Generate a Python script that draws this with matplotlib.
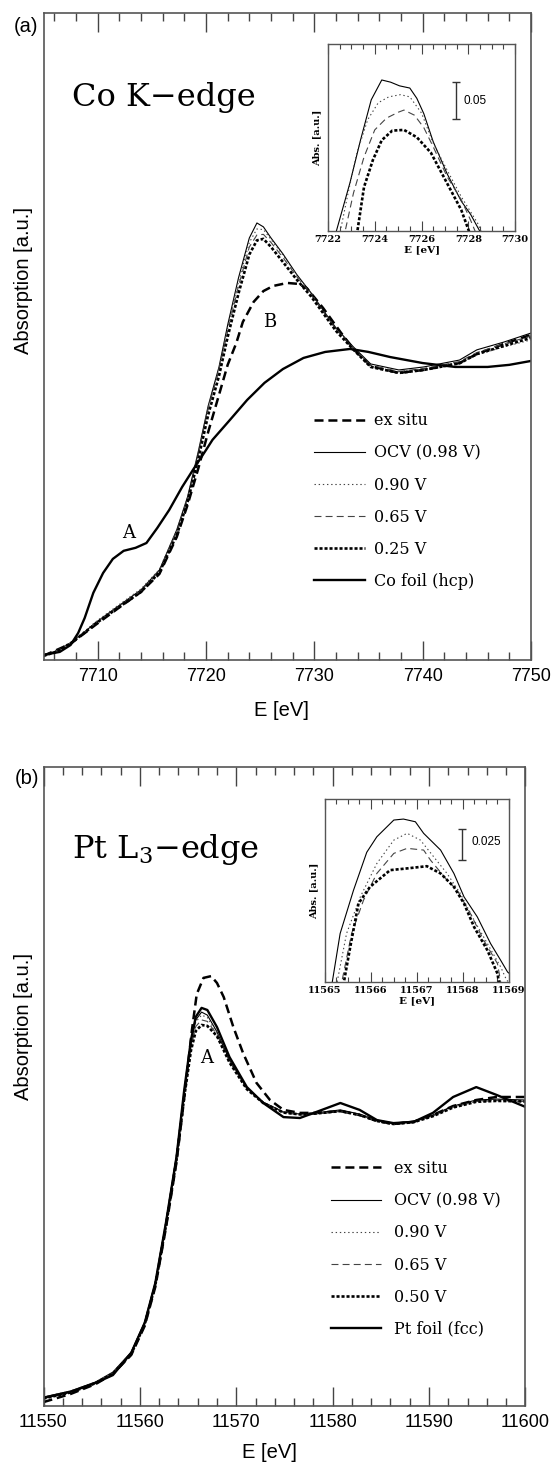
import matplotlib
matplotlib.use('Agg')
import matplotlib.pyplot as plt
from matplotlib.ticker import MultipleLocator

plt.rcParams['lines.scale_dashes'] = False
plt.rcParams['mathtext.fontset'] = 'dejavuserif'
plt.rcParams['font.family'] = ['Liberation Sans', 'DejaVu Sans']

# ---------------- panel (a): Co K-edge ----------------
co_foil_e = [7705.0, 7706.5, 7707.5, 7708.2, 7708.8, 7709.6, 7710.5, 7711.4, 7712.4, 7713.5,
             7714.5, 7715.5, 7716.6, 7717.8, 7718.8, 7720.0, 7720.6, 7722.2, 7723.8, 7725.4,
             7727.1, 7729.0, 7731.0, 7733.3, 7735.0, 7737.0, 7740.0, 7743.0, 7746.0, 7748.0, 7750.0]
co_foil_y = [0.0, 0.01, 0.033, 0.073, 0.123, 0.207, 0.273, 0.32, 0.347, 0.357,
             0.373, 0.423, 0.483, 0.56, 0.617, 0.683, 0.717, 0.783, 0.85, 0.907,
             0.953, 0.99, 1.01, 1.02, 1.01, 0.993, 0.973, 0.96, 0.96, 0.967, 0.98]

co_e = [7705.0, 7706.0, 7707.5, 7709.0, 7709.8, 7711.8, 7714.0, 7715.7, 7717.3, 7718.3,
        7719.3, 7720.2, 7721.2, 7722.0, 7723.0, 7724.0, 7724.7, 7725.3, 7726.0, 7727.1,
        7728.4, 7729.7, 7731.0, 7732.0, 7733.6, 7735.2, 7737.8, 7740.1, 7743.4, 7745.0,
        7747.5, 7750.0]
co_ocv = [0.0, 0.01, 0.04, 0.083, 0.107, 0.16, 0.217, 0.283, 0.417, 0.527,
          0.68, 0.83, 0.96, 1.10, 1.257, 1.39, 1.44, 1.427, 1.39, 1.337,
          1.267, 1.207, 1.14, 1.09, 1.027, 0.97, 0.95, 0.96, 0.983, 1.017,
          1.043, 1.073]
co_090 = [0.0, 0.012, 0.042, 0.085, 0.11, 0.163, 0.22, 0.285, 0.415, 0.525,
          0.675, 0.825, 0.955, 1.09, 1.245, 1.375, 1.42, 1.418, 1.385, 1.333,
          1.265, 1.205, 1.138, 1.087, 1.022, 0.962, 0.943, 0.952, 0.975, 1.0,
          1.027, 1.05]
co_065 = [0.0, 0.01, 0.04, 0.082, 0.106, 0.158, 0.214, 0.28, 0.41, 0.52,
          0.67, 0.82, 0.95, 1.08, 1.23, 1.36, 1.40, 1.402, 1.375, 1.325,
          1.26, 1.2, 1.135, 1.085, 1.022, 0.965, 0.945, 0.955, 0.978, 1.008,
          1.037, 1.063]
co_025 = [-0.003, 0.008, 0.038, 0.08, 0.104, 0.155, 0.21, 0.275, 0.4, 0.51,
          0.655, 0.8, 0.93, 1.06, 1.205, 1.335, 1.382, 1.387, 1.36, 1.31,
          1.25, 1.195, 1.13, 1.08, 1.018, 0.96, 0.94, 0.95, 0.972, 1.003,
          1.03, 1.057]

co_ex_e = [7705.0, 7707.5, 7709.8, 7711.8, 7714.0, 7715.7, 7717.3, 7718.3, 7719.3, 7720.2,
           7721.2, 7722.0, 7722.8, 7723.4, 7724.4, 7725.3, 7726.2, 7727.5, 7728.5, 7729.3,
           7730.8, 7732.4, 7733.6, 7735.2, 7737.8, 7740.1, 7743.4, 7745.0, 7747.5, 7750.0]
co_ex_y = [-0.003, 0.037, 0.1, 0.153, 0.21, 0.27, 0.393, 0.5, 0.623, 0.743,
           0.867, 0.967, 1.04, 1.11, 1.177, 1.213, 1.23, 1.24, 1.237, 1.223,
           1.157, 1.077, 1.02, 0.963, 0.94, 0.95, 0.973, 1.003, 1.037, 1.067]

# inset (a)
ins_a_ocv_e = [7722.25, 7722.94, 7723.39, 7723.85, 7724.30, 7724.68, 7725.06, 7725.5, 7725.8,
               7726.1, 7726.5, 7727.1, 7727.7, 7728.1, 7728.7]
ins_a_ocv_y = [1.222, 1.300, 1.358, 1.413, 1.440, 1.437, 1.432, 1.429, 1.415,
               1.394, 1.356, 1.312, 1.275, 1.257, 1.222]
ins_a_090_e = [7722.45, 7722.86, 7723.24, 7723.7, 7724.15, 7724.6, 7725.1, 7725.5, 7726.0,
               7726.5, 7727.1, 7727.7, 7728.4, 7728.7]
ins_a_090_y = [1.222, 1.286, 1.341, 1.386, 1.409, 1.417, 1.420, 1.417, 1.395,
               1.354, 1.317, 1.281, 1.245, 1.222]
ins_a_065_e = [7722.65, 7723.09, 7723.54, 7724.0, 7724.5, 7725.0, 7725.25, 7725.7, 7726.1,
               7726.5, 7727.1, 7727.7, 7728.1, 7728.45]
ins_a_065_y = [1.222, 1.286, 1.335, 1.372, 1.388, 1.396, 1.399, 1.392, 1.375,
               1.349, 1.308, 1.277, 1.249, 1.222]
ins_a_025_e = [7723.2, 7723.54, 7723.92, 7724.3, 7724.75, 7725.25, 7725.8, 7726.4, 7726.8,
               7727.25, 7727.7, 7728.1]
ins_a_025_y = [1.222, 1.294, 1.331, 1.358, 1.371, 1.372, 1.362, 1.341, 1.317,
               1.290, 1.263, 1.228]

# ---------------- panel (b): Pt L3-edge ----------------
pt_e = [11550.0, 11552.8, 11555.4, 11557.2, 11559.1, 11560.5, 11561.6, 11562.7, 11563.8,
        11564.6, 11565.3, 11565.8, 11566.4, 11567.0, 11568.0, 11569.3, 11571.1, 11572.8,
        11574.9, 11576.6, 11578.3, 11580.8, 11582.8, 11584.6, 11586.3, 11588.4, 11590.4,
        11592.5, 11594.9, 11597.0, 11600.0]
pt_foil = [0.007, 0.027, 0.057, 0.083, 0.157, 0.257, 0.39, 0.59, 0.81,
           1.033, 1.2, 1.277, 1.307, 1.3, 1.243, 1.143, 1.043, 0.99,
           0.943, 0.94, 0.96, 0.99, 0.967, 0.933, 0.923, 0.927, 0.957,
           1.01, 1.043, 1.017, 0.977]
pt_ocv = [0.01, 0.03, 0.06, 0.093, 0.16, 0.26, 0.393, 0.593, 0.817,
          1.033, 1.193, 1.267, 1.293, 1.283, 1.227, 1.133, 1.04, 0.993,
          0.96, 0.953, 0.957, 0.967, 0.953, 0.933, 0.923, 0.93, 0.95,
          0.98, 1.0, 1.003, 1.0]
pt_090 = [0.01, 0.03, 0.06, 0.092, 0.158, 0.258, 0.39, 0.59, 0.812,
          1.025, 1.185, 1.26, 1.283, 1.275, 1.222, 1.13, 1.04, 0.993,
          0.96, 0.953, 0.955, 0.963, 0.952, 0.932, 0.922, 0.928, 0.948,
          0.977, 0.996, 1.0, 0.997]
pt_065 = [0.008, 0.028, 0.058, 0.09, 0.155, 0.255, 0.386, 0.585, 0.805,
          1.018, 1.175, 1.245, 1.267, 1.262, 1.218, 1.128, 1.038, 0.99,
          0.958, 0.95, 0.953, 0.962, 0.95, 0.93, 0.92, 0.927, 0.947,
          0.976, 0.995, 0.998, 0.995]
pt_050 = [0.005, 0.025, 0.056, 0.088, 0.153, 0.252, 0.383, 0.58, 0.8,
          1.01, 1.165, 1.23, 1.25, 1.247, 1.213, 1.125, 1.036, 0.99,
          0.958, 0.952, 0.955, 0.963, 0.95, 0.93, 0.92, 0.926, 0.946,
          0.975, 0.994, 0.997, 0.995]

pt_ex_e = [11550.0, 11552.8, 11555.4, 11557.2, 11559.1, 11560.5, 11561.6, 11562.7, 11563.8,
           11564.6, 11565.4, 11565.9, 11566.6, 11567.4, 11568.0, 11568.7, 11569.7, 11570.7,
           11572.1, 11573.5, 11574.9, 11576.6, 11578.3, 11580.8, 11582.8, 11584.6, 11586.3,
           11588.4, 11590.4, 11592.5, 11594.9, 11597.0, 11600.0]
pt_ex_y = [-0.007, 0.02, 0.053, 0.087, 0.15, 0.247, 0.377, 0.573, 0.793,
           1.007, 1.233, 1.353, 1.407, 1.413, 1.39, 1.343, 1.243, 1.157,
           1.057, 1.0, 0.967, 0.957, 0.957, 0.963, 0.95, 0.93, 0.92,
           0.927, 0.95, 0.98, 1.0, 1.01, 1.01]

# inset (b)
ins_b_ocv_e = [11565.13, 11565.33, 11565.62, 11565.91, 11566.13, 11566.5, 11566.71, 11566.97,
               11567.15, 11567.52, 11567.81, 11568.03, 11568.32, 11568.61, 11568.83, 11568.98,
               11569.1]
ins_b_ocv_y = [1.157, 1.203, 1.238, 1.269, 1.2816, 1.2952, 1.296, 1.2938,
               1.2844, 1.2708, 1.2518, 1.2328, 1.2165, 1.1948, 1.1812, 1.1717,
               1.1682]
ins_b_090_e = [11565.23, 11565.47, 11565.77, 11566.13, 11566.5, 11566.79, 11567.08, 11567.37,
               11567.66, 11567.95, 11568.25, 11568.54, 11568.83, 11568.96, 11569.1]
ins_b_090_y = [1.157, 1.203, 1.2328, 1.2599, 1.2789, 1.2844, 1.2789, 1.2653,
               1.2518, 1.2355, 1.2138, 1.1948, 1.1758, 1.165, 1.1609]
ins_b_065_e = [11565.33, 11565.58, 11565.84, 11566.13, 11566.5, 11566.79, 11567.15, 11567.3,
               11567.66, 11567.88, 11568.17, 11568.46, 11568.76, 11568.86]
ins_b_065_y = [1.157, 1.203, 1.2301, 1.2518, 1.2681, 1.2722, 1.2708, 1.2626,
               1.2464, 1.2382, 1.2192, 1.1975, 1.1785, 1.157]
ins_b_050_e = [11565.38, 11565.55, 11565.73, 11565.98, 11566.42, 11566.79, 11567.22, 11567.52,
               11567.81, 11568.03, 11568.25, 11568.54, 11568.76, 11568.82]
ins_b_050_y = [1.157, 1.192, 1.2274, 1.2409, 1.2545, 1.2559, 1.2577, 1.2518,
               1.2409, 1.2274, 1.2083, 1.1894, 1.1704, 1.157]

labels_a = ['ex situ', 'OCV (0.98 V)', '0.90 V', '0.65 V', '0.25 V', 'Co foil (hcp)']
labels_b = ['ex situ', 'OCV (0.98 V)', '0.90 V', '0.65 V', '0.50 V', 'Pt foil (fcc)']

# line styles: ex situ, OCV, high V, mid V, low V, foil
st = [dict(color='k', lw=1.8, dashes=(6.5, 3.5)),
      dict(color='k', lw=0.8),
      dict(color='#444', lw=0.8, dashes=(1, 2)),
      dict(color='#444', lw=0.8, dashes=(5, 3)),
      dict(color='k', lw=1.9, dashes=(2.2, 1.4)),
      dict(color='k', lw=1.7)]

W, H = 553, 1467
fig = plt.figure(figsize=(W / 100, H / 100), dpi=100)


def px_axes(x0, y0, x1, y1):
    return fig.add_axes([x0 / W, 1 - y1 / H, (x1 - x0) / W, (y1 - y0) / H])


def style_main(ax, major, minor):
    ax.xaxis.set_major_locator(MultipleLocator(major))
    ax.xaxis.set_minor_locator(MultipleLocator(minor))
    ax.ticklabel_format(axis='x', useOffset=False, style='plain')
    ax.tick_params(axis='x', which='both', direction='in', top=True, bottom=True,
                   color='#444', width=1)
    ax.tick_params(axis='x', which='major', length=14, labelsize=13, pad=6)
    ax.tick_params(axis='x', which='minor', length=6)
    ax.set_yticks([])
    for s in ax.spines.values():
        s.set_color('#555')
        s.set_linewidth(1.2)


def style_inset(ax, major, minor):
    ax.xaxis.set_major_locator(MultipleLocator(major))
    ax.xaxis.set_minor_locator(MultipleLocator(minor))
    ax.ticklabel_format(axis='x', useOffset=False, style='plain')
    ax.tick_params(axis='x', which='both', direction='in', top=True, bottom=True,
                   color='#444', width=0.8, pad=3)
    ax.tick_params(axis='x', which='major', length=7)
    ax.tick_params(axis='x', which='minor', length=3.5)
    for t in ax.get_xticklabels():
        t.set_fontfamily('DejaVu Serif')
        t.set_fontweight('bold')
        t.set_fontsize(7)
    ax.set_yticks([])
    ax.set_xlabel('E [eV]', family='DejaVu Serif', weight='bold', fontsize=7.5, labelpad=1)
    ax.set_ylabel('Abs. [a.u.]', family='DejaVu Serif', weight='bold', fontsize=7, labelpad=5)
    for s in ax.spines.values():
        s.set_color('#555')
        s.set_linewidth(1.0)


# ---- panel (a)
ax = px_axes(43.5, 13, 531, 660)
series_a = [(co_ex_e, co_ex_y), (co_e, co_ocv), (co_e, co_090), (co_e, co_065),
            (co_e, co_025), (co_foil_e, co_foil_y)]
handles = []
for (xs, ys), s, lab in zip(series_a, st, labels_a):
    handles.append(ax.plot(xs, ys, label=lab, **s)[0])
ax.set_xlim(7705, 7750)
ax.set_ylim(-0.017, 2.14)
style_main(ax, 10, 2)
ax.legend(handles, labels_a, loc='upper left', bbox_to_anchor=(0.5545, 0.383),
          frameon=False, borderpad=0, borderaxespad=0, handlelength=3.2,
          handletextpad=0.58, labelspacing=0.95, prop={'family': 'DejaVu Serif', 'size': 11.5})
ax.text(0.0593, 0.8563, 'Co K\u2212edge', transform=ax.transAxes, family='DejaVu Serif',
        fontsize=23, va='baseline')
ax.text(7712.9, 0.407, 'A', family='DejaVu Serif', fontsize=13, ha='center', va='center')
ax.text(7725.9, 1.11, 'B', family='DejaVu Serif', fontsize=13, ha='center', va='center')

ins = px_axes(328, 44, 515, 231)
series_ia = [(ins_a_ocv_e, ins_a_ocv_y), (ins_a_090_e, ins_a_090_y),
             (ins_a_065_e, ins_a_065_y), (ins_a_025_e, ins_a_025_y)]
for (xs, ys), s in zip(series_ia, st[1:5]):
    ins.plot(xs, ys, **s)
ins.set_xlim(7722, 7730)
ins.set_ylim(1.2343, 1.489)
style_inset(ins, 2, 0.5)
ins.errorbar(7727.47, 1.412, yerr=0.025, color='#333', lw=1, capsize=3, capthick=1)
ins.text(0.722, 0.695, '0.05', transform=ins.transAxes, fontsize=8.5, va='center')

# ---- panel (b)
bx = px_axes(43.5, 767, 525.4, 1406)
series_b = [(pt_ex_e, pt_ex_y), (pt_e, pt_ocv), (pt_e, pt_090), (pt_e, pt_065),
            (pt_e, pt_050), (pt_e, pt_foil)]
handles = []
for (xs, ys), s, lab in zip(series_b, st, labels_b):
    handles.append(bx.plot(xs, ys, label=lab, **s)[0])
bx.set_xlim(11550, 11600)
bx.set_ylim(-0.02, 2.11)
style_main(bx, 10, 2)
bx.legend(handles, labels_b, loc='upper left', bbox_to_anchor=(0.5974, 0.385),
          frameon=False, borderpad=0, borderaxespad=0, handlelength=3.1,
          handletextpad=0.81, labelspacing=0.95, prop={'family': 'DejaVu Serif', 'size': 11.5})
bx.text(0.06, 0.8576, 'Pt L$_3$\u2212edge', transform=bx.transAxes, family='DejaVu Serif',
        fontsize=23, va='baseline')
bx.text(11566.9, 1.14, 'A', family='DejaVu Serif', fontsize=13, ha='center', va='center')

inb = px_axes(325, 799, 508.5, 982)
series_ib = [(ins_b_ocv_e, ins_b_ocv_y), (ins_b_090_e, ins_b_090_y),
             (ins_b_065_e, ins_b_065_y), (ins_b_050_e, ins_b_050_y)]
for (xs, ys), s in zip(series_ib, st[1:5]):
    inb.plot(xs, ys, **s)
inb.set_xlim(11565, 11569)
inb.set_ylim(1.1636, 1.3123)
style_inset(inb, 1, 0.25)
inb.errorbar(11567.98, 1.2751, yerr=0.0125, color='#333', lw=1, capsize=3, capthick=1)
inb.text(0.80, 0.766, '0.025', transform=inb.transAxes, fontsize=8.5, va='center')

# panel letters, axis labels
fig.text(26 / W, 1 - 27 / H, '(a)', fontsize=14.5, ha='center', va='center')
fig.text(27 / W, 1 - 778 / H, '(b)', fontsize=14.5, ha='center', va='center')
fig.text(24 / W, 1 - 280 / H, 'Absorption [a.u.]', fontsize=14.5, rotation=90,
         ha='center', va='center')
fig.text(24 / W, 1 - 1027 / H, 'Absorption [a.u.]', fontsize=14.5, rotation=90,
         ha='center', va='center')
fig.text(281 / W, 1 - 710 / H, 'E [eV]', fontsize=14.5, ha='center', va='center')
fig.text(269 / W, 1 - 1453 / H, 'E [eV]', fontsize=14.5, ha='center', va='center')

fig.savefig('out.png', dpi=100)
